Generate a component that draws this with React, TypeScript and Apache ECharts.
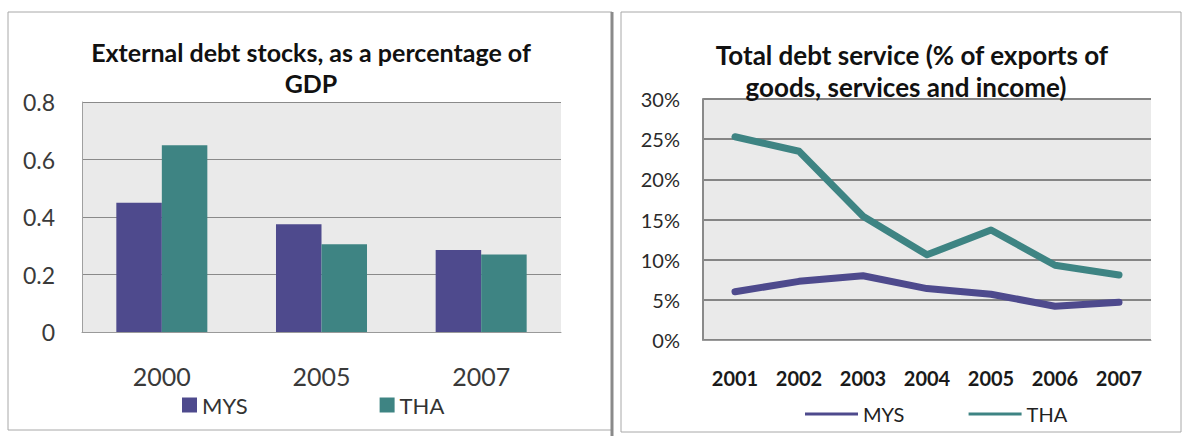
import React, { useEffect, useRef } from "react";
import * as echarts from "echarts";

const barCategories = ["2000", "2005", "2007"];
const barMYS = [0.45, 0.375, 0.285];
const barTHA = [0.65, 0.305, 0.27];

const lineCategories = ["2001", "2002", "2003", "2004", "2005", "2006", "2007"];
const lineMYS = [6.0, 7.3, 8.0, 6.4, 5.7, 4.2, 4.7];
const lineTHA = [25.3, 23.5, 15.4, 10.6, 13.7, 9.3, 8.1];

const leftTitle = ["External debt stocks, as a percentage of", "GDP"];
const rightTitle = ["Total debt service (% of exports of", "goods, services and income)"];

const C_MYS = "#4e4a8d";
const C_THA = "#3e8483";
const FONT = "Lato";

export default function App() {
  const ref = useRef<HTMLDivElement>(null);
  useEffect(() => {
    document.body.style.margin = "0";
    const chart = echarts.init(ref.current!, null, { renderer: "svg" });
    const titleStyle = (text: string, x: number, y: number, size: number) => ({
      type: "text",
      x,
      y,
      style: {
        text,
        fill: "#111",
        font: `bold ${size}px ${FONT}`,
        textAlign: "center",
        textVerticalAlign: "middle",
      },
      z: 10,
    });
    chart.setOption({
      animation: false,
      backgroundColor: "#ffffff",
      textStyle: { fontFamily: FONT },
      graphic: [
        { type: "rect", shape: { x: 8, y: 12, width: 604, height: 418 }, style: { fill: "none", stroke: "#a8a8a8", lineWidth: 1 } },
        { type: "line", shape: { x1: 612, y1: 12, x2: 612, y2: 436 }, style: { stroke: "#8a8a8a", lineWidth: 3 } },
        { type: "rect", shape: { x: 621, y: 12, width: 560, height: 420 }, style: { fill: "none", stroke: "#a8a8a8", lineWidth: 1 } },
        titleStyle(leftTitle[0], 311, 52, 25),
        titleStyle(leftTitle[1], 311, 83, 25),
        titleStyle(rightTitle[0], 912, 55, 26),
        titleStyle(rightTitle[1], 906, 87, 26),
      ],
      grid: [
        { left: 82, top: 102, width: 479, height: 230, show: true, backgroundColor: "#eaeaea", borderWidth: 0 },
        { left: 703, top: 99, width: 448, height: 241, show: true, backgroundColor: "#eaeaea", borderWidth: 0 },
      ],
      legend: [
        {
          data: ["MYS", "THA"].map((n) => ({ name: n })),
          left: 182,
          top: 394,
          icon: "rect",
          itemWidth: 15,
          itemHeight: 15,
          itemGap: 132,
          padding: 0,
          textStyle: { fontSize: 22, color: "#333", fontFamily: FONT },
        },
        {
          data: [
            { name: "MYS ", itemStyle: { color: C_MYS } },
            { name: "THA ", itemStyle: { color: C_THA } },
          ],
          left: 805,
          top: 404,
          icon: "rect",
          itemWidth: 53,
          itemHeight: 3,
          itemGap: 59,
          padding: 0,
          textStyle: { fontSize: 20, color: "#222", fontFamily: FONT },
        },
      ],
      xAxis: [
        {
          type: "category",
          gridIndex: 0,
          data: barCategories,
          axisLine: { lineStyle: { color: "#9a9a9a", width: 1 } },
          axisTick: { show: false },
          axisLabel: { fontSize: 25, color: "#3a3a3a", margin: 31, fontFamily: FONT },
        },
        {
          type: "category",
          gridIndex: 1,
          data: lineCategories,
          boundaryGap: true,
          axisLine: { lineStyle: { color: "#9a9a9a", width: 1 } },
          axisTick: { show: false },
          axisLabel: { fontSize: 20, color: "#1a1a1a", margin: 28, fontFamily: FONT, fontWeight: "bold" },
        },
      ],
      yAxis: [
        {
          type: "value",
          gridIndex: 0,
          min: 0,
          max: 0.8,
          interval: 0.2,
          axisLine: { show: true, lineStyle: { color: "#a0a0a0", width: 1 } },
          axisTick: { show: false },
          splitLine: { lineStyle: { color: "#8a8a8a", width: 1 } },
          axisLabel: { fontSize: 23, color: "#3a3a3a", margin: 27, fontFamily: FONT },
        },
        {
          type: "value",
          gridIndex: 1,
          min: 0,
          max: 30,
          interval: 5,
          axisLine: { show: true, lineStyle: { color: "#8a8a8a", width: 2 } },
          axisTick: { show: false },
          splitLine: { lineStyle: { color: "#858585", width: 2 } },
          axisLabel: { fontSize: 20, color: "#2a2a2a", margin: 23, fontFamily: FONT, formatter: "{value}%" },
        },
      ],
      series: [
        {
          name: "MYS",
          type: "bar",
          xAxisIndex: 0,
          yAxisIndex: 0,
          data: barMYS,
          barGap: "0%",
          barCategoryGap: "43%",
          itemStyle: { color: C_MYS },
        },
        {
          name: "THA",
          type: "bar",
          xAxisIndex: 0,
          yAxisIndex: 0,
          data: barTHA,
          barGap: "0%",
          barCategoryGap: "43%",
          itemStyle: { color: C_THA },
        },
        {
          name: "MYS ",
          type: "line",
          xAxisIndex: 1,
          yAxisIndex: 1,
          data: lineMYS,
          symbol: "none",
          lineStyle: { color: C_MYS, width: 7, cap: "round", join: "round" },
          itemStyle: { color: C_MYS },
        },
        {
          name: "THA ",
          type: "line",
          xAxisIndex: 1,
          yAxisIndex: 1,
          data: lineTHA,
          symbol: "none",
          lineStyle: { color: C_THA, width: 7, cap: "round", join: "round" },
          itemStyle: { color: C_THA },
        },
      ],
    });
    return () => chart.dispose();
  }, []);
  return <div ref={ref} style={{ width: 1192, height: 436 }} />;
}
